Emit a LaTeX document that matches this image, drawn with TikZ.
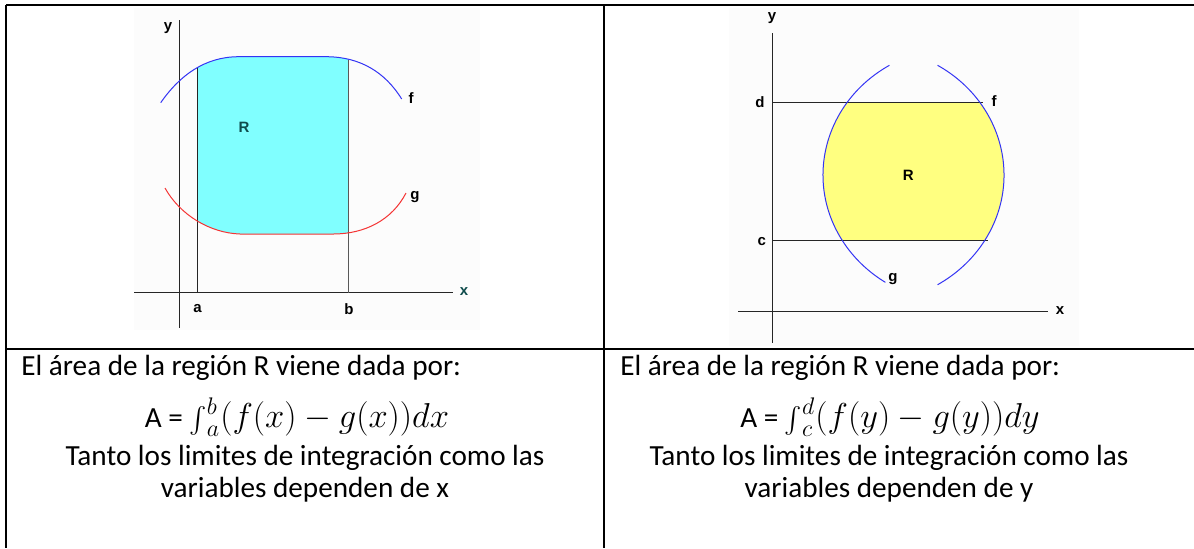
\documentclass[tikz,border=0pt]{standalone}
\usepackage{fontspec}
\setmainfont{Carlito}
\newfontfamily\plotfont{Liberation Sans}
\usepackage{graphicx}
\usepackage{tikz}
\usetikzlibrary{positioning}
\definecolor{curveblue}{HTML}{3434F4}
\definecolor{curvered}{HTML}{F43434}
\definecolor{regioncyan}{HTML}{80FFFF}
\definecolor{regionyellow}{HTML}{FFFF80}
\definecolor{labelteal}{HTML}{0F4C4C}
\definecolor{plotbg}{HTML}{FCFCFC}
\tikzset{
  cellrule/.style={draw=black, line width=1pt},
  axisline/.style={draw=black!85, line width=0.5pt},
  fcurve/.style={draw=curveblue, line width=0.5pt},
  gcurve/.style={draw=curvered, line width=0.5pt},
  plotlbl/.style={font=\plotfont\bfseries\fontsize{7.5}{8}\selectfont, inner sep=0pt},
  bodytxt/.style={font=\fontsize{14.6}{17}\selectfont, inner sep=0pt, anchor=base},
  mathtxt/.style={font=\fontsize{14.6}{17}\selectfont, inner sep=0pt, anchor=base}
}
\newcommand{\areaint}[2]{\mathop{\raisebox{-0.3ex}{\scalebox{1.3}{$\int$}}}\nolimits_{#1}^{#2}}

\begin{document}
\begin{tikzpicture}[x=0.5pt, y=-0.5pt]
\useasboundingbox (0,0) rectangle (1194,548);
\fill[plotbg] (134,8) rectangle (480,330);
\fill[plotbg] (729,8) rectangle (1079,346);

% table
\draw[cellrule] (6,5) -- (1194,5);
\draw[cellrule] (6,5) -- (6,548);
\draw[cellrule] (604,5) -- (604,548);
\draw[cellrule] (6,349) -- (1194,349);

% left plot: region between f and g for a <= x <= b
\begin{scope}
\clip (197.3,0) rectangle (348.7,300);
\fill[regioncyan] (160.7,102.7) .. controls (180,75) and (205,57) .. (238,56.7) -- (327,56.7)
  .. controls (360,57) and (385,72) .. (401.7,99) -- (406,193)
  .. controls (392,220) and (365,234) .. (333,234) -- (240,234)
  .. controls (210,233) and (180,215) .. (165,188) -- cycle;
\end{scope}
\draw[axisline] (134,292.7) -- (453,292.7);
\draw[axisline] (179.3,20) -- (179.3,328);
\draw[axisline] (197.3,292.7) -- (197.3,67.5);
\draw[axisline, draw=black!65] (348.7,292.7) -- (348.7,59.5);
\draw[fcurve] (160.7,102.7) .. controls (180,75) and (205,57) .. (238,56.7) -- (327,56.7)
  .. controls (360,57) and (385,72) .. (401.7,99);
\draw[gcurve] (165,188) .. controls (180,215) and (210,233) .. (240,234) -- (333,234)
  .. controls (365,234) and (392,220) .. (406,193);
\node[plotlbl] (ly) at (168,28) {y};
\node[plotlbl, text=labelteal] (lx) at (464,292) {x};
\node[plotlbl] (la) at (197.5,309) {a};
\node[plotlbl] (lb) at (349,309) {b};
\node[plotlbl] (lf) at (411,98) {f};
\node[plotlbl] (lg) at (415,197) {g};
\node[plotlbl, text=labelteal] (lR) at (244,127) {R};

% right plot: region between g and f for c <= y <= d
\begin{scope}
\clip (960,175) ellipse [x radius=68.5pt, y radius=64pt];
\clip (867,175) ellipse [x radius=68.5pt, y radius=64pt];
\fill[regionyellow] (772.3,102.3) rectangle (1010,240);
\end{scope}
\draw[axisline] (738,311.7) -- (1048,311.7);
\draw[axisline] (772.3,33) -- (772.3,343);
\draw[axisline] (772.3,102.3) -- (983,102.3);
\draw[axisline] (772.3,240) -- (988,240);
\draw[fcurve] (960,175) ++(121:68.5pt and 64pt) arc[start angle=121, end angle=237, x radius=68.5pt, y radius=64pt];
\draw[fcurve] (867,175) ++(59:68.5pt and 64pt) arc[start angle=59, end angle=-59, x radius=68.5pt, y radius=64pt];
\node[plotlbl] (ry) at (772,18) {y};
\node[plotlbl] (rx) at (1060,311) {x};
\node[plotlbl] (rd) at (760,102) {d};
\node[plotlbl] (rc) at (761.7,242) {c};
\node[plotlbl] (rf) at (994,101) {f};
\node[plotlbl] (rg) at (893,279) {g};
\node[plotlbl] (rR) at (908.3,175) {R};

% texts
\node[bodytxt, anchor=base west] (lt1) at (21,375) {El área de la región R viene dada por:};
\node[mathtxt] (lt2) at (297,427) {A = {\fontsize{17}{20}\selectfont$\areaint{a}{b}(f(x) - g(x))dx$}};
\node[bodytxt] (lt3) at (305,465) {Tanto los limites de integración como las};
\node[bodytxt] (lt4) at (305,497) {variables dependen de x};
\node[bodytxt, anchor=base west] (rt1) at (620,375) {El área de la región R viene dada por:};
\node[mathtxt] (rt2) at (890,427) {A = {\fontsize{17}{20}\selectfont$\areaint{c}{d}(f(y) - g(y))dy$}};
\node[bodytxt] (rt3) at (889,465) {Tanto los limites de integración como las};
\node[bodytxt] (rt4) at (889,497) {variables dependen de y};
\end{tikzpicture}
\end{document}
